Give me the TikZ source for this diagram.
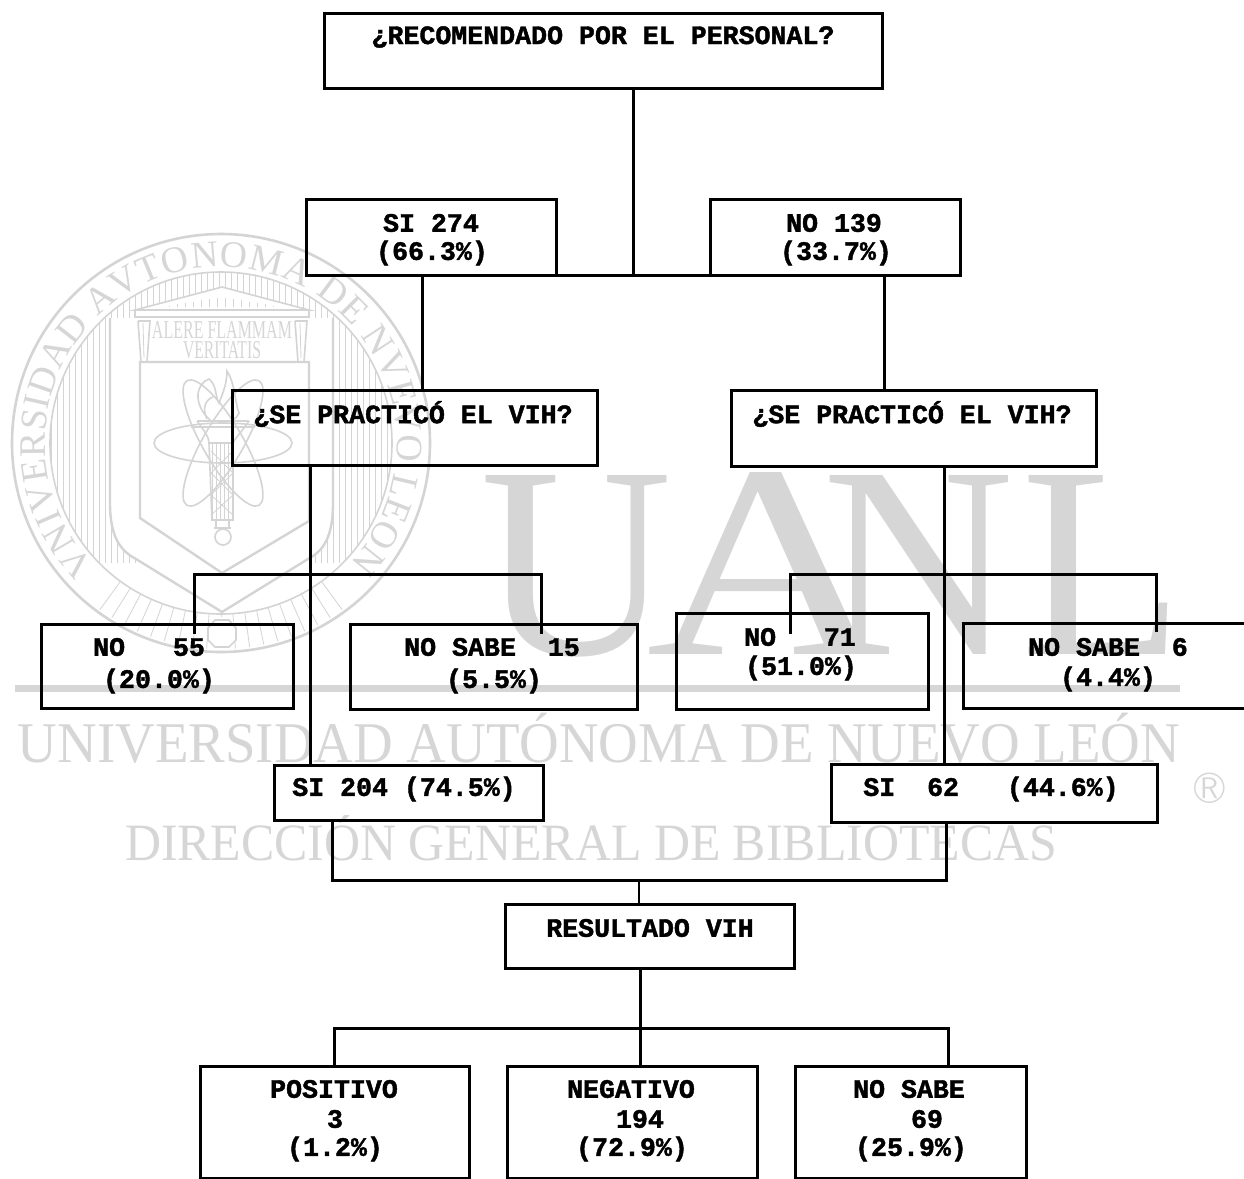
\documentclass[tikz,border=0pt]{standalone}
\usepackage{fontspec}
\usepackage{graphicx}
\setmainfont{Liberation Serif}
\setmonofont{Liberation Mono}[BoldFeatures={FakeBold=1.6}]
\usetikzlibrary{decorations.text}
\definecolor{wmline}{HTML}{D4D4D4}
\definecolor{wmtext}{HTML}{D6D6D6}
\tikzset{
  boxnode/.style={draw=black,line width=1.5pt,inner sep=0pt,outer sep=0pt,fill=none},
  lbl/.style={inner sep=0pt,outer sep=0pt,text=black,font=\ttfamily\bfseries\fontsize{13.3}{13.3}\selectfont},
  conn/.style={draw=black,line width=1.5pt,line cap=rect},
  wm/.style={draw=wmline,line width=0.8pt},
  wmthin/.style={draw=wmline,line width=0.4pt},
  wmbig/.style={inner sep=0pt,outer sep=0pt,text=wmtext}
}
\newcommand{\boxat}[5]{\node[boxnode,minimum width={(#4-#2)*0.5pt},minimum height={(#5-#3)*0.5pt}] (#1) at ({(#2+#4)/2},{(#3+#5)/2}) {};}
\newcommand{\sk}{\ \ }
\begin{document}
\begin{tikzpicture}[x=0.5pt,y=-0.5pt]
\useasboundingbox (0,0) rectangle (1244,1179);
\clip (0,0) rectangle (1244,1179);
\fill[white] (0,0) rectangle (1244,1179);
% ---- watermark: seal
\begin{scope}[shift={(221,443)},x=0.5pt,y=0.5pt]
  \draw[wm,line width=1.3pt] (0,0) circle (209);
  \draw[wm] (0,0) circle (171);
  \begin{scope}
    \clip (0,0) circle (171);
    \foreach \hx in {-170,-164,...,170} \draw[wmthin] (\hx,171) -- (\hx,-120);
  \end{scope}
  \fill[white] (-111,125) -- (-111,-60) .. controls (-111,-95) and (-100,-108) .. (-85,-116) -- (1,-169) -- (87,-116) .. controls (102,-108) and (112,-95) .. (112,-60) -- (112,125) -- cycle;
  \foreach \ra in {234,238,...,306} \draw[wmthin] (\ra:171) -- (\ra:206);
  \fill[white] (1,-190) circle (16);
  \draw[wm] (-13,-185) -- (-6,-177) -- (8,-177) -- (15,-185) -- (15,-197) -- (8,-204) -- (-6,-204) -- (-13,-197) -- cycle;
  \path[decorate,decoration={text along path,text align={fit to path},text color=wmtext,
    text={|\fontsize{18.8}{18.8}\selectfont|VNIVERSIDAD AVTONOMA DE NVEVO LEON}}]
    (224:176) arc (224:-43:176);
  % shields
  \draw[wm,line width=1.2pt] (-111,125) -- (-111,-60) .. controls (-111,-95) and (-100,-108) .. (-85,-116) -- (1,-169) -- (87,-116) .. controls (102,-108) and (112,-95) .. (112,-60) -- (112,125);
  \draw[wm,line width=1.2pt] (-81,81) -- (-81,-75) -- (1,-130) -- (88,-78) -- (88,81) -- cycle;
  % pediment
  \fill[white] (-86,133) -- (1,156) -- (88,133) -- (88,120) -- (-86,120) -- cycle;
  \draw[wm] (-86,133) -- (1,156) -- (88,133) -- cycle;
  \draw[wm] (-86,133) -- (-86,126) -- (88,126) -- (88,133);
  \foreach \px in {-60,-52,...,60} \draw[wmthin] (\px,136) -- (\px,{146-abs(\px)/6});
  \foreach \cx in {-83,74}{
    \draw[wm] (\cx,122) -- (\cx+12,122) -- (\cx+9,81) (\cx,122) -- (\cx+3,81);
    \draw[wmthin] (\cx+5,120) -- (\cx+6,85);
  }
  \node[wmbig] (wmAlere) at (1,113) {\resizebox{70pt}{8.5pt}{ALERE FLAMMAM}};
  \node[wmbig] (wmVerit) at (1,93) {\resizebox{39pt}{8.5pt}{VERITATIS}};
  % atom
  \draw[wm] (2,0) ellipse [x radius=69,y radius=20];
  \draw[wm,rotate around={60:(2,0)}] (2,0) ellipse [x radius=72,y radius=20];
  \draw[wm,rotate around={-60:(2,0)}] (2,0) ellipse [x radius=72,y radius=20];
  % torch
  \draw[wm] (-30,16) -- (34,16) (-24,22) -- (28,22) (-24,22) .. controls (-15,10) and (-12,5) .. (-12,0) (28,22) .. controls (20,10) and (14,5) .. (12,0);
  \draw[wm] (-12,0) -- (-9,-77) -- (12,-77) -- (12,0) -- cycle;
  \foreach \tx in {-9,-5,...,11} \draw[wmthin] (\tx,0) -- (\tx,-77);
  \draw[wmthin] (-10,-8) -- (12,-30) (12,-8) -- (-10,-30) (-10,-30) -- (12,-52) (12,-30) -- (-10,-52) (-10,-52) -- (12,-72) (12,-52) -- (-10,-72);
  \draw[wm] (-5,-77) -- (-5,-85) (8,-77) -- (8,-85) (-7,-85) -- (10,-85);
  \draw[wm] (2,-94) circle (8);
  \draw[wm] (-10,22) .. controls (-30,40) and (-24,60) .. (-12,64) .. controls (-4,58) and (-6,46) .. (-2,40)
     .. controls (2,50) and (6,60) .. (6,72) .. controls (14,60) and (14,40) .. (18,30) .. controls (16,26) and (14,24) .. (10,22);
  \draw[wm] (-14,24) .. controls (-20,36) and (-14,44) .. (-8,46);
\end{scope}
% ---- watermark: lettering
\node[wmbig,anchor=base west] (wmU) at (480,654) {\resizebox{96pt}{89.5pt}{U}};
\node[wmbig,anchor=base west] (wmA) at (646,654) {\resizebox{122pt}{91pt}{A}};
\node[wmbig,anchor=base west] (wmN) at (822,654) {\resizebox{96pt}{89.5pt}{N}};
\node[wmbig,anchor=base west] (wmL) at (1021,654) {\resizebox{81pt}{89.5pt}{L}};
\fill[wmtext] (15,685) rectangle (1180,692);
\node[wmbig,anchor=base west] (wmUni) at (18,762) {\resizebox{581pt}{24.7pt}{UNIVERSIDAD AUTÓNOMA DE NUEVO LEÓN}};
\node[wmbig,anchor=base west] (wmDir) at (125,860) {\resizebox{466pt}{22.5pt}{DIRECCIÓN GENERAL DE BIBLIOTECAS}};
\node[wmbig] (wmReg) at (1210,788) {\fontsize{22}{22}\selectfont\sffamily ®};
% ---- boxes
\boxat{top}{324}{13}{882}{88}
\boxat{si}{306}{199}{556}{275}
\boxat{no}{710}{199}{960}{275}
\boxat{vihA}{232}{390}{597}{465}
\boxat{vihB}{731}{390}{1096}{466}
\boxat{noA}{41}{624}{293}{708}
\boxat{nsA}{350}{624}{637}{709}
\boxat{noB}{676}{613}{928}{709}
\boxat{nsB}{963}{623}{1256}{708}
\boxat{siA}{274}{765}{543}{820}
\boxat{siB}{831}{764}{1157}{822}
\boxat{res}{505}{904}{794}{968}
\boxat{pos}{200}{1066}{469}{1178}
\boxat{neg}{507}{1066}{757}{1178}
\boxat{nsC}{795}{1066}{1026}{1178}
% ---- junctions
\coordinate (j1) at (633,275);
\coordinate (jA) at (422,275);
\coordinate (jB) at (884,275);
\coordinate (j2) at (310,574);
\coordinate (j2l) at (194,574);
\coordinate (j2r) at (541,574);
\coordinate (j3) at (944,574);
\coordinate (j3l) at (790,574);
\coordinate (j3r) at (1156,574);
\coordinate (e2l) at (194,632);
\coordinate (e2r) at (541,632);
\coordinate (e3l) at (790,632);
\coordinate (e3r) at (1156,630);
\coordinate (k1) at (332,880);
\coordinate (k2) at (946,880);
\coordinate (k3) at (639,880);
\coordinate (m1) at (640,1028);
\coordinate (ml) at (334,1028);
\coordinate (mr) at (948,1028);
% ---- connectors
\draw[conn] (top.south -| j1) -- (j1);
\draw[conn] (si.south east) -- (no.south west);
\draw[conn] (jA) -- (jA |- vihA.north);
\draw[conn] (jB) -- (jB |- vihB.north);
\draw[conn] (j2 |- vihA.south) -- (j2 |- siA.north);
\draw[conn] (e2l) -- (j2l) -- (j2r) -- (e2r);
\draw[conn] (j3 |- vihB.south) -- (j3 |- siB.north);
\draw[conn] (e3l) -- (j3l) -- (j3r) -- (e3r);
\draw[conn] (k1 |- siA.south) -- (k1) -- (k2) -- (k2 |- siB.south);
\draw[conn,line width=1pt] (k3) -- (k3 |- res.north);
\draw[conn] (m1 |- res.south) -- (m1 |- neg.north);
\draw[conn] (ml |- pos.north) -- (ml) -- (mr) -- (mr |- nsC.north);
% ---- labels
\node[lbl] (tTop) at (603,37) {¿RECOMENDADO POR EL PERSONAL?};
\node[lbl] (tSi1) at (431,223) {SI 274};
\node[lbl] (tSi2) at (432,253) {(66.3\%)};
\node[lbl] (tNo1) at (834,223) {NO 139};
\node[lbl] (tNo2) at (836,253) {(33.7\%)};
\node[lbl] (tVihA) at (413,414) {¿SE PRACTICÓ EL VIH?};
\node[lbl] (tVihB) at (912,414) {¿SE PRACTICÓ EL VIH?};
\node[lbl] (tNoA1) at (149,647) {NO\sk\ 55};
\node[lbl] (tNoA2) at (159,681) {(20.0\%)};
\node[lbl] (tNsA1) at (492,647) {NO SABE\sk 15};
\node[lbl] (tNsA2) at (494,681) {(5.5\%)};
\node[lbl] (tNoB1) at (800,637) {NO\sk\ 71};
\node[lbl] (tNoB2) at (801,668) {(51.0\%)};
\node[lbl] (tNsB1) at (1108,647) {NO SABE\sk 6};
\node[lbl] (tNsB2) at (1108,679) {(4.4\%)};
\node[lbl] (tSiA) at (404,789) {SI 204 (74.5\%)};
\node[lbl] (tSiB) at (991,789) {SI\sk 62\sk\ (44.6\%)};
\node[lbl] (tRes) at (650,928) {RESULTADO VIH};
\node[lbl] (tPos1) at (334,1089) {POSITIVO};
\node[lbl] (tPos2) at (335,1119) {3};
\node[lbl] (tPos3) at (335,1149) {(1.2\%)};
\node[lbl] (tNeg1) at (631,1089) {NEGATIVO};
\node[lbl] (tNeg2) at (640,1119) {194};
\node[lbl] (tNeg3) at (632,1149) {(72.9\%)};
\node[lbl] (tNsC1) at (909,1089) {NO SABE};
\node[lbl] (tNsC2) at (927,1119) {69};
\node[lbl] (tNsC3) at (911,1149) {(25.9\%)};
\end{tikzpicture}
\end{document}
